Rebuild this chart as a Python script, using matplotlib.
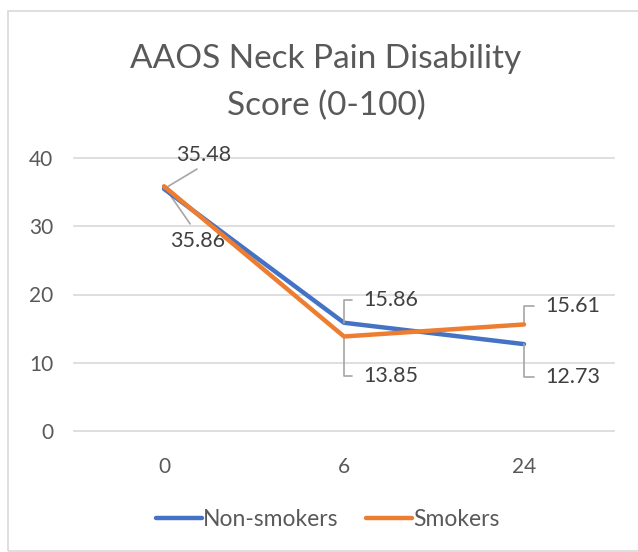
import matplotlib
matplotlib.use("Agg")
import matplotlib.pyplot as plt
from matplotlib.patches import Rectangle

# chart values
months = ["0", "6", "24"]
non_smokers = [35.48, 15.86, 12.73]
smokers = [35.86, 13.85, 15.61]
y_ticks = [0, 10, 20, 30, 40]
title_lines = ["AAOS Neck Pain Disability", "Score (0-100)"]

BLUE = "#4472C4"
ORANGE = "#ED7D31"
GRID = "#D9D9D9"
TXT = "#595959"
LBL = "#404040"

plt.rcParams["font.family"] = ["Lato", "DejaVu Sans"]

W, H = 638, 552
fig = plt.figure(figsize=(W / 100, H / 100), dpi=100)
ax = fig.add_axes([74 / W, 121 / H, 540 / W, 273 / H])

x = list(range(len(months)))
ax.plot(x, non_smokers, color=BLUE, lw=3.2, solid_capstyle="round", label="Non-smokers", zorder=3)
ax.plot(x, smokers, color=ORANGE, lw=3.2, solid_capstyle="round", label="Smokers", zorder=4)

ax.set_xlim(-0.5, len(months) - 0.5)
ax.set_ylim(0, 40)
ax.set_yticks(y_ticks)
ax.set_xticks(x, months)
for s in ax.spines.values():
    s.set_visible(False)
ax.grid(axis="y", color=GRID, lw=1.2, clip_on=False)
ax.set_axisbelow(True)
ax.tick_params(axis="both", length=0, labelsize=15, labelcolor=TXT)
ax.tick_params(axis="y", pad=15)
ax.tick_params(axis="x", pad=19)

# data labels with leader lines, offsets in pixels from the point
lsize = 15.5
leader = dict(arrowstyle="-", color="#A6A6A6", lw=1.2, shrinkA=2, shrinkB=0)
bracket = dict(leader, connectionstyle="angle,angleA=0,angleB=90,rad=0", relpos=(0, 0.5), shrinkA=6)

ax.annotate(f"{non_smokers[0]:.2f}", xy=(0, non_smokers[0]), xytext=(40, 34),
            textcoords="offset pixels", ha="center", va="center", fontsize=lsize, color=LBL,
            arrowprops=dict(leader, relpos=(0.5, 0)))
ax.annotate(f"{smokers[0]:.2f}", xy=(0, smokers[0]), xytext=(34, -55),
            textcoords="offset pixels", ha="center", va="center", fontsize=lsize, color=LBL,
            arrowprops=dict(leader, relpos=(0.45, 1), shrinkA=4), zorder=2)

label_offsets = [
    (1, non_smokers[1], 19, 23),
    (2, smokers[2], 21, 18),
    (1, smokers[1], 19, -40),
    (2, non_smokers[2], 21, -33),
]
for xi, v, dx, dy in label_offsets:
    ax.annotate(f"{v:.2f}", xy=(xi, v), xytext=(dx, dy), textcoords="offset pixels",
                ha="left", va="center", fontsize=lsize, color=LBL, arrowprops=bracket)

fig.text(326 / W, 1 - 68 / H, title_lines[0], ha="center", va="baseline", fontsize=24, color=TXT)
fig.text(326 / W, 1 - 115 / H, title_lines[1], ha="center", va="baseline", fontsize=24, color=TXT)

leg = fig.legend(loc="center", bbox_to_anchor=(328 / W, 1 - 520 / H), ncol=2, frameon=False,
                 fontsize=16.5, handlelength=2.0, handletextpad=0.05, columnspacing=1.2)
for t in leg.get_texts():
    t.set_color(TXT)
for h in leg.get_lines():
    h.set_linewidth(3.2)

fig.add_artist(Rectangle((8 / W, 1 / H), 1.0, 540 / H, transform=fig.transFigure,
                         fill=False, edgecolor=GRID, lw=1.2))

fig.savefig("out.png", dpi=100, facecolor="white")
